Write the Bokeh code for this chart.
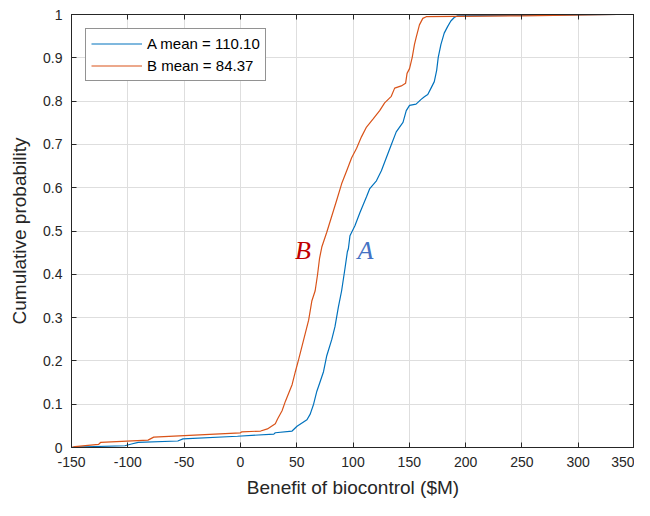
from bokeh.plotting import figure
from bokeh.models import Range1d, FixedTicker, LinearAxis, Legend, LegendItem
from bokeh.core.properties import value
from bokeh.embed import file_html
from bokeh.resources import INLINE

# ---- data ----
a_x = [-150, -147, -102.6, -96.7, -90.8, -55.6, -51, -2.6, 29.7, 31, 45.9, 50.3, 59.1, 62, 65, 67.9,
       70.8, 73.8, 76.7, 81.1, 84, 87, 89.9, 92.9, 95, 95.9, 97.3, 101.7, 106.1, 112, 114.9, 120.8,
       125.2, 129.6, 134, 138.4, 144.4, 147.3, 150.2, 156, 160.5, 163.4, 166.4, 169.3, 172.2, 174.3,
       175.7, 178.1, 181, 184, 186.9, 189.9, 192.9, 250, 335]
a_y = [0.0, 0.001, 0.004, 0.008, 0.012, 0.015, 0.020, 0.026, 0.031, 0.034, 0.038, 0.049, 0.064, 0.077,
       0.100, 0.130, 0.152, 0.175, 0.212, 0.249, 0.279, 0.324, 0.362, 0.414, 0.452, 0.459, 0.489, 0.512,
       0.542, 0.579, 0.598, 0.616, 0.639, 0.669, 0.699, 0.729, 0.751, 0.778, 0.790, 0.793, 0.804, 0.810,
       0.815, 0.830, 0.845, 0.871, 0.901, 0.931, 0.957, 0.972, 0.985, 0.993, 0.997, 0.998, 1.0]

b_x = [-150, -147, -126, -124, -82, -77, 0, 1, 18, 24, 31, 33, 37, 40, 45.9, 48.8, 51.8, 56.2, 60.6,
       63.5, 66.4, 68.5, 70.3, 72.3, 76.7, 81.1, 85.5, 89.9, 94.4, 98.8, 103.2, 107.6, 112, 117.9,
       123.7, 128.1, 134, 137, 142.9, 146.7, 148, 150.2, 152.6, 154.6, 156, 159, 162, 165, 250, 335]
b_y = [0.0, 0.002, 0.007, 0.012, 0.017, 0.024, 0.034, 0.036, 0.038, 0.043, 0.055, 0.066, 0.085, 0.107,
       0.145, 0.175, 0.204, 0.249, 0.294, 0.339, 0.362, 0.399, 0.437, 0.463, 0.497, 0.534, 0.571, 0.609,
       0.639, 0.669, 0.691, 0.718, 0.740, 0.759, 0.778, 0.796, 0.811, 0.830, 0.835, 0.841, 0.864, 0.875,
       0.901, 0.931, 0.946, 0.976, 0.991, 0.995, 0.997, 1.0]

series_labels = ["A mean = 110.10", "B mean = 84.37"]
annot_text = ["B", "A"]
annot_x = [55.6, 111.1]
annot_y = [0.456, 0.456]

x_ticks = [-150, -100, -50, 0, 50, 100, 150, 200, 250, 300, 350]
x_tick_labels = ["-150", "-100", "-50", "0", "50", "100", "150", "200", "250", "300", "350"]
y_ticks = [0, 0.1, 0.2, 0.3, 0.4, 0.5, 0.6, 0.7, 0.8, 0.9, 1]
y_tick_labels = ["0", "0.1", "0.2", "0.3", "0.4", "0.5", "0.6", "0.7", "0.8", "0.9", "1"]

# ---- styling ----
BLUE = "#0072BD"
ORANGE = "#D95319"
AX = "#262626"
FONT = "Liberation Sans"

p = figure(width=634, height=500, output_backend="svg", toolbar_location=None,
           x_range=Range1d(-150, 350), y_range=Range1d(0, 1),
           min_border_left=71, min_border_right=0, min_border_top=14, min_border_bottom=0)
p.outline_line_color = AX
p.outline_line_width = 1

for ax, ticks in ((p.xaxis[0], x_ticks), (p.yaxis[0], y_ticks)):
    ax.ticker = FixedTicker(ticks=ticks)
    ax.major_tick_in = 5
    ax.major_tick_out = 0
    ax.minor_tick_line_color = None
    ax.axis_line_color = AX
    ax.major_tick_line_color = AX
    ax.major_label_text_color = AX
    ax.major_label_text_font = FONT
    ax.major_label_text_font_size = "14px"
    ax.axis_label_text_font = FONT
    ax.axis_label_text_font_size = "19px"
    ax.axis_label_text_font_style = "normal"
    ax.axis_label_text_color = AX

p.xaxis[0].axis_label = "Benefit of biocontrol ($M)"
p.xaxis[0].major_label_standoff = 9
p.xaxis[0].axis_label_standoff = 7
p.xaxis[0].major_label_overrides = {t: l for t, l in zip(x_ticks, x_tick_labels)}
p.yaxis[0].axis_label = "Cumulative probability"
p.yaxis[0].major_label_standoff = 9
p.yaxis[0].axis_label_standoff = 10
p.yaxis[0].major_label_overrides = {t: l for t, l in zip(y_ticks, y_tick_labels)}

# top and right box axes with inward ticks
top = LinearAxis(ticker=FixedTicker(ticks=x_ticks), major_label_text_font_size="0px",
                 major_tick_in=5, major_tick_out=0, minor_tick_line_color=None,
                 axis_line_color=AX, major_tick_line_color=AX, major_label_standoff=0)
right = LinearAxis(ticker=FixedTicker(ticks=y_ticks), major_label_text_font_size="0px",
                   major_tick_in=5, major_tick_out=0, minor_tick_line_color=None,
                   axis_line_color=AX, major_tick_line_color=AX, major_label_standoff=0)
p.add_layout(top, "above")
p.add_layout(right, "right")

p.xgrid.ticker = FixedTicker(ticks=x_ticks)
p.ygrid.ticker = FixedTicker(ticks=y_ticks)
p.grid.grid_line_color = "#dedede"
p.grid.grid_line_width = 1

ra = p.line(a_x, a_y, line_color=BLUE, line_width=1.2)
rb = p.line(b_x, b_y, line_color=ORANGE, line_width=1.2)

p.text(x=[annot_x[0]], y=[annot_y[0]], text=[annot_text[0]], text_color="#C00000",
       text_font=value("Liberation Serif"), text_font_style="italic", text_font_size="26px",
       text_align="center", text_baseline="middle")
p.text(x=[annot_x[1]], y=[annot_y[1]], text=[annot_text[1]], text_color="#4472C4",
       text_font=value("Liberation Serif"), text_font_style="italic", text_font_size="26px",
       text_align="center", text_baseline="middle")

legend = Legend(items=[LegendItem(label=series_labels[0], renderers=[ra]),
                       LegendItem(label=series_labels[1], renderers=[rb])],
                location="top_left", margin=14, padding=5, spacing=3,
                glyph_width=51, glyph_height=19, label_height=19, label_standoff=5,
                label_text_font=FONT, label_text_font_size="15px", label_text_color="#000000",
                border_line_color="#262626", border_line_width=1, background_fill_alpha=1)
p.add_layout(legend, "center")

open("out.html", "w").write(file_html(p, INLINE))
